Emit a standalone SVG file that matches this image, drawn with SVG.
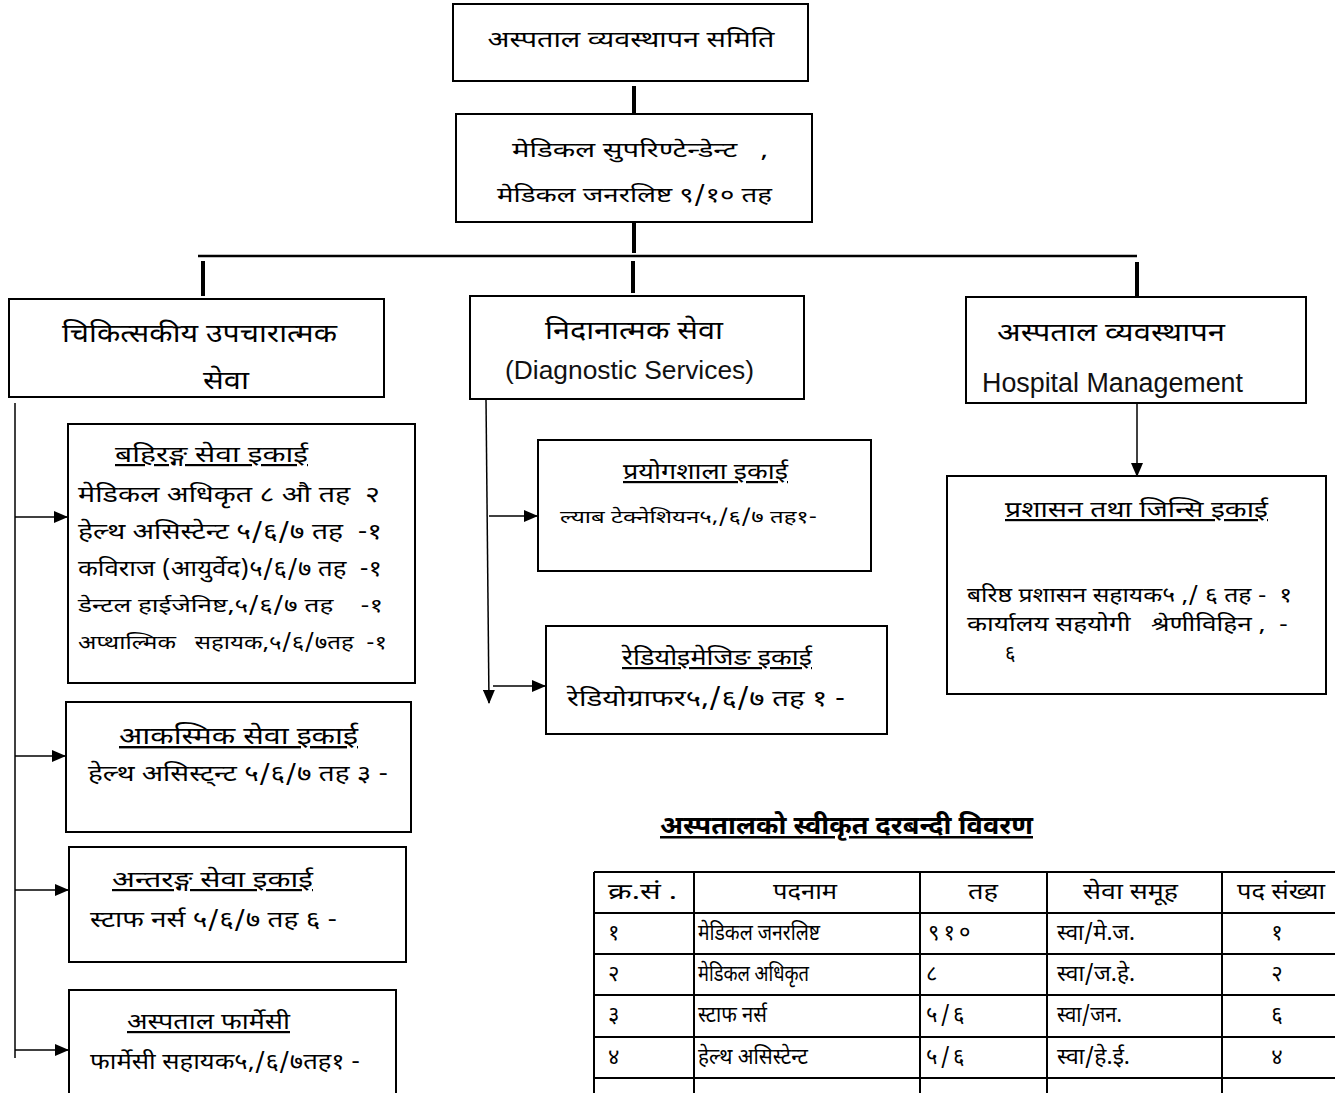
<svg xmlns="http://www.w3.org/2000/svg" width="1335" height="1093" viewBox="0 0 1335 1093">
<defs>
<marker id="ah" markerWidth="14" markerHeight="12" refX="13" refY="6" orient="auto" markerUnits="userSpaceOnUse">
<path d="M0,0 L14,6 L0,12 Z" fill="#000"/>
</marker>
<style>
.box{fill:#fff;stroke:#000;stroke-width:2}
.t{font-family:"Noto Sans Devanagari","Lohit Devanagari","Noto Sans","Liberation Sans",sans-serif;fill:#000;white-space:pre}
.en{font-family:"Liberation Sans",Arial,sans-serif;fill:#111}
.u{text-decoration:underline}
.thick{stroke:#000;stroke-width:4}
.c{stroke:#000;stroke-width:1.5;fill:none}
.tb{stroke:#000;stroke-width:2;fill:none}
</style>
</defs>
<rect width="1335" height="1093" fill="#fff"/>

<g id="connectors">
<line class="thick" x1="634" y1="86" x2="634" y2="113"/>
<line class="thick" x1="634" y1="223" x2="634" y2="253"/>
<line x1="198" y1="256" x2="1137" y2="256" stroke="#000" stroke-width="2.5"/>
<line class="thick" x1="203" y1="261" x2="203" y2="296"/>
<line class="thick" x1="633" y1="261" x2="633" y2="293"/>
<line class="thick" x1="1137" y1="262" x2="1137" y2="297"/>
<line class="c" x1="15" y1="403" x2="15" y2="1058"/>
<line class="c" x1="15" y1="517" x2="67" y2="517" marker-end="url(#ah)"/>
<line class="c" x1="15" y1="756" x2="65" y2="756" marker-end="url(#ah)"/>
<line class="c" x1="15" y1="890" x2="68" y2="890" marker-end="url(#ah)"/>
<line class="c" x1="15" y1="1050" x2="68" y2="1050" marker-end="url(#ah)"/>
<line class="c" x1="486" y1="399" x2="489" y2="703" marker-end="url(#ah)"/>
<line class="c" x1="489" y1="516" x2="537" y2="516" marker-end="url(#ah)"/>
<line class="c" x1="493" y1="686" x2="545" y2="686" marker-end="url(#ah)"/>
<line class="c" x1="1137" y1="403" x2="1137" y2="476" marker-end="url(#ah)"/>
</g>

<g id="n-committee">
<rect class="box" x="453" y="4" width="355" height="77"/>
<text class="t" x="631" y="47" font-size="23" text-anchor="middle" textLength="287" lengthAdjust="spacingAndGlyphs">अस्पताल व्यवस्थापन समिति</text>
</g>

<g id="n-superintendent">
<rect class="box" x="456" y="114" width="356" height="108"/>
<text class="t" x="512" y="157" font-size="21" textLength="256" lengthAdjust="spacingAndGlyphs">मेडिकल सुपरिण्टेन्डेन्ट   ,</text>
<text class="t" x="497" y="202" font-size="21" textLength="275" lengthAdjust="spacingAndGlyphs">मेडिकल जनरलिष्ट ९/१० तह</text>
</g>

<g id="n-clinical">
<rect class="box" x="9" y="299" width="375" height="98"/>
<text class="t" x="62" y="342" font-size="25" textLength="275" lengthAdjust="spacingAndGlyphs">चिकित्सकीय उपचारात्मक</text>
<text class="t" x="203" y="389" font-size="25" textLength="46" lengthAdjust="spacingAndGlyphs">सेवा</text>
</g>

<g id="n-diagnostic">
<rect class="box" x="470" y="296" width="334" height="103"/>
<text class="t" x="545" y="339" font-size="25" textLength="178" lengthAdjust="spacingAndGlyphs">निदानात्मक सेवा</text>
<text class="en" x="505" y="379" font-size="26.5" textLength="249" lengthAdjust="spacingAndGlyphs">(Diagnostic Services)</text>
</g>

<g id="n-management">
<rect class="box" x="966" y="297" width="340" height="106"/>
<text class="t" x="997" y="341" font-size="25" textLength="228" lengthAdjust="spacingAndGlyphs">अस्पताल व्यवस्थापन</text>
<text class="en" x="982" y="392" font-size="27" textLength="261" lengthAdjust="spacingAndGlyphs">Hospital Management</text>
</g>

<g id="n-opd">
<rect class="box" x="68" y="424" width="347" height="259"/>
<text class="t u" x="115" y="462" font-size="22" textLength="193" lengthAdjust="spacingAndGlyphs">बहिरङ्ग सेवा इकाई</text>
<text class="t" x="78" y="502" font-size="22" textLength="302" lengthAdjust="spacingAndGlyphs">मेडिकल अधिकृत ८ औ तह  २</text>
<text class="t" x="78" y="539" font-size="22" textLength="304" lengthAdjust="spacingAndGlyphs">हेल्थ असिस्टेन्ट ५/६/७ तह  -१</text>
<text class="t" x="78" y="576" font-size="22" textLength="304" lengthAdjust="spacingAndGlyphs">कविराज (आयुर्वेद)५/६/७ तह  -१</text>
<text class="t" x="78" y="612" font-size="19" textLength="305" lengthAdjust="spacingAndGlyphs">डेन्टल हाईजेनिष्ट,५/६/७ तह    -१</text>
<text class="t" x="78" y="649" font-size="19" textLength="309" lengthAdjust="spacingAndGlyphs">अप्थाल्मिक   सहायक,५/६/७तह  -१</text>
</g>

<g id="n-emergency">
<rect class="box" x="66" y="702" width="345" height="130"/>
<text class="t u" x="119" y="744" font-size="24" textLength="239" lengthAdjust="spacingAndGlyphs">आकस्मिक सेवा इकाई</text>
<text class="t" x="88" y="781" font-size="22" textLength="300" lengthAdjust="spacingAndGlyphs">हेल्थ असिस्ट्न्ट ५/६/७ तह ३ -</text>
</g>

<g id="n-ipd">
<rect class="box" x="69" y="847" width="337" height="115"/>
<text class="t u" x="112" y="887" font-size="22" textLength="201" lengthAdjust="spacingAndGlyphs">अन्तरङ्ग सेवा इकाई</text>
<text class="t" x="90" y="927" font-size="22" textLength="247" lengthAdjust="spacingAndGlyphs">स्टाफ नर्स ५/६/७ तह ६ -</text>
</g>

<g id="n-pharmacy">
<rect class="box" x="69" y="990" width="327" height="120"/>
<text class="t u" x="127" y="1029" font-size="22" textLength="163" lengthAdjust="spacingAndGlyphs">अस्पताल फार्मेसी</text>
<text class="t" x="90" y="1069" font-size="22" textLength="270" lengthAdjust="spacingAndGlyphs">फार्मेसी सहायक५,/६/७तह१ -</text>
</g>

<g id="n-lab">
<rect class="box" x="538" y="440" width="333" height="131"/>
<text class="t u" x="623" y="479" font-size="22" textLength="165" lengthAdjust="spacingAndGlyphs">प्रयोगशाला इकाई</text>
<text class="t" x="560" y="523" font-size="18" textLength="257" lengthAdjust="spacingAndGlyphs">ल्याब टेक्नेशियन५,/६/७ तह१-</text>
</g>

<g id="n-radio">
<rect class="box" x="546" y="626" width="341" height="108"/>
<text class="t u" x="622" y="665" font-size="22" textLength="190" lengthAdjust="spacingAndGlyphs">रेडियोइमेजिङ इकाई</text>
<text class="t" x="567" y="706" font-size="23" textLength="278" lengthAdjust="spacingAndGlyphs">रेडियोग्राफर५,/६/७ तह १ -</text>
</g>

<g id="n-admin">
<rect class="box" x="947" y="476" width="379" height="218"/>
<text class="t u" x="1005" y="517" font-size="22" textLength="263" lengthAdjust="spacingAndGlyphs">प्रशासन तथा जिन्सि इकाई</text>
<text class="t" x="967" y="602" font-size="20" textLength="325" lengthAdjust="spacingAndGlyphs">बरिष्ठ प्रशासन सहायक५ ,/ ६ तह -  १</text>
<text class="t" x="967" y="631" font-size="20" textLength="321" lengthAdjust="spacingAndGlyphs">कार्यालय सहयोगी   श्रेणीविहिन ,  -</text>
<text class="t" x="1005" y="660" font-size="20">६</text>
</g>

<g id="n-table">
<text class="t u" x="660" y="834" font-size="25" font-weight="bold" textLength="373" lengthAdjust="spacingAndGlyphs">अस्पतालको स्वीकृत दरबन्दी विवरण</text>
<g class="tb">
<line x1="594" y1="872" x2="1335" y2="872"/>
<line x1="594" y1="913" x2="1335" y2="913"/>
<line x1="594" y1="954" x2="1335" y2="954"/>
<line x1="594" y1="995" x2="1335" y2="995"/>
<line x1="594" y1="1037" x2="1335" y2="1037"/>
<line x1="594" y1="1078" x2="1335" y2="1078"/>
<line x1="594" y1="872" x2="594" y2="1093"/>
<line x1="694" y1="872" x2="694" y2="1093"/>
<line x1="920" y1="872" x2="920" y2="1093"/>
<line x1="1047" y1="872" x2="1047" y2="1093"/>
<line x1="1222" y1="872" x2="1222" y2="1093"/>
</g>
<g class="t" font-size="22">
<text x="608" y="899" textLength="69" lengthAdjust="spacingAndGlyphs">क्र.सं .</text>
<text x="773" y="899" textLength="64" lengthAdjust="spacingAndGlyphs">पदनाम</text>
<text x="968" y="899" textLength="30" lengthAdjust="spacingAndGlyphs">तह</text>
<text x="1083" y="899" textLength="95" lengthAdjust="spacingAndGlyphs">सेवा समूह</text>
<text x="1237" y="899" textLength="88" lengthAdjust="spacingAndGlyphs">पद संख्या</text>
<text x="608" y="940">१</text>
<text x="698" y="940" textLength="122" lengthAdjust="spacingAndGlyphs">मेडिकल जनरलिष्ट</text>
<text x="928" y="940" letter-spacing="4">९१०</text>
<text x="1057" y="940" textLength="78" lengthAdjust="spacingAndGlyphs">स्वा/मे.ज.</text>
<text x="1277" y="940" text-anchor="middle">१</text>
<text x="608" y="981">२</text>
<text x="698" y="981" textLength="111" lengthAdjust="spacingAndGlyphs">मेडिकल अधिकृत</text>
<text x="926" y="981">८</text>
<text x="1057" y="981" textLength="78" lengthAdjust="spacingAndGlyphs">स्वा/ज.हे.</text>
<text x="1277" y="981" text-anchor="middle">२</text>
<text x="608" y="1022">३</text>
<text x="698" y="1022" textLength="69" lengthAdjust="spacingAndGlyphs">स्टाफ नर्स</text>
<text x="926" y="1022" letter-spacing="3">५/६</text>
<text x="1057" y="1022" textLength="65" lengthAdjust="spacingAndGlyphs">स्वा/जन.</text>
<text x="1277" y="1022" text-anchor="middle">६</text>
<text x="608" y="1064">४</text>
<text x="698" y="1064" textLength="110" lengthAdjust="spacingAndGlyphs">हेल्थ असिस्टेन्ट</text>
<text x="926" y="1064" letter-spacing="3">५/६</text>
<text x="1057" y="1064" textLength="73" lengthAdjust="spacingAndGlyphs">स्वा/हे.ई.</text>
<text x="1277" y="1064" text-anchor="middle">४</text>
</g>
</g>
</svg>
